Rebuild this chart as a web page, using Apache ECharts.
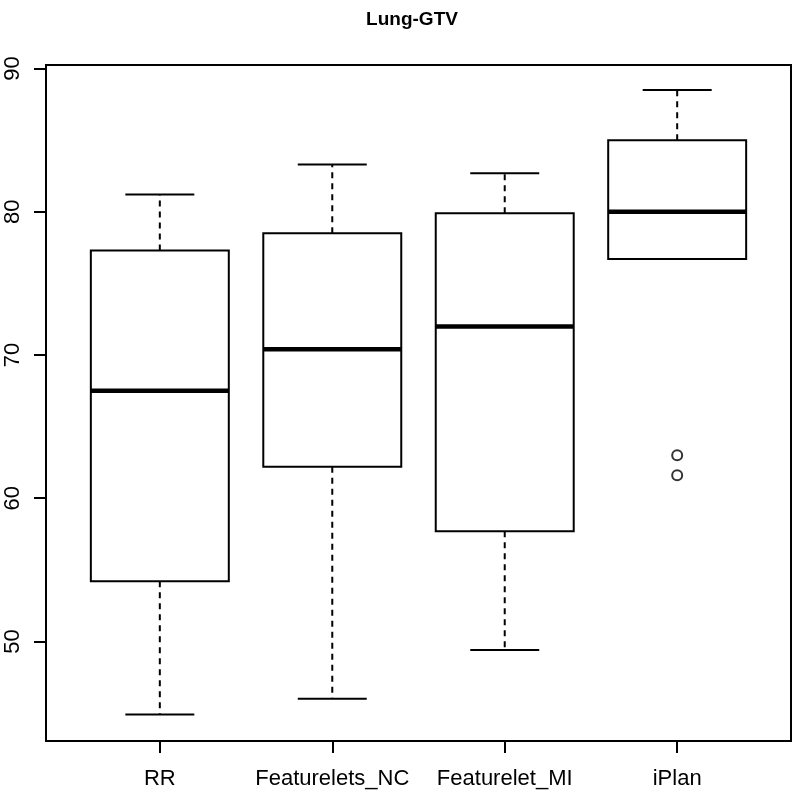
<!DOCTYPE html>
<html>
<head>
<meta charset="utf-8">
<script src="https://cdn.jsdelivr.net/npm/echarts@6/dist/echarts.min.js"></script>
<style>
  html, body { margin: 0; padding: 0; background: #fff; }
  #chart { width: 795px; height: 798px; }
</style>
</head>
<body>
<div id="chart"></div>
<script>
// boxplot stats
var categories = ['RR', 'Featurelets_NC', 'Featurelet_MI', 'iPlan']
var lowerWhisker = [44.9, 46.0, 49.4, 76.7]
var q1 = [54.2, 62.2, 57.7, 76.7]
var median = [67.5, 70.4, 72.0, 80.0]
var q3 = [77.3, 78.5, 79.9, 85.0]
var upperWhisker = [81.2, 83.3, 82.7, 88.5]
var outliers = [[4, 63.0], [4, 61.6]]
var yTicks = [50, 60, 70, 80, 90]

var boxData = categories.map(function (c, i) {
  return [i + 1, lowerWhisker[i], q1[i], median[i], q3[i], upperWhisker[i]]
})

var font = 'Liberation Sans, Arial, sans-serif'

function renderBox(params, api) {
  var x = api.value(0)
  var lo = api.coord([x, api.value(1)])
  var b1 = api.coord([x, api.value(2)])
  var md = api.coord([x, api.value(3)])
  var b3 = api.coord([x, api.value(4)])
  var hi = api.coord([x, api.value(5)])
  var left = api.coord([x - 0.4, 0])[0]
  var right = api.coord([x + 0.4, 0])[0]
  var capL = api.coord([x - 0.2, 0])[0]
  var capR = api.coord([x + 0.2, 0])[0]
  var cx = lo[0]
  var solid = { stroke: '#000', lineWidth: 2 }
  var dashed = { stroke: '#000', lineWidth: 2, lineDash: [6, 5] }
  return {
    type: 'group',
    children: [
      { type: 'line', shape: { x1: cx, y1: b3[1], x2: cx, y2: hi[1] }, style: dashed },
      { type: 'line', shape: { x1: cx, y1: b1[1], x2: cx, y2: lo[1] }, style: dashed },
      { type: 'line', shape: { x1: capL, y1: hi[1], x2: capR, y2: hi[1] }, style: solid },
      { type: 'line', shape: { x1: capL, y1: lo[1], x2: capR, y2: lo[1] }, style: solid },
      { type: 'rect', shape: { x: left, y: b3[1], width: right - left, height: b1[1] - b3[1] },
        style: { fill: '#fff', stroke: '#000', lineWidth: 2 } },
      { type: 'line', shape: { x1: left, y1: md[1], x2: right, y2: md[1] },
        style: { stroke: '#000', lineWidth: 4.5 } }
    ]
  }
}

var chart = echarts.init(document.getElementById('chart'))
chart.setOption({
  animation: false,
  backgroundColor: '#fff',
  title: {
    text: 'Lung-GTV',
    left: 407,
    textAlign: 'center',
    top: 5,
    textStyle: { fontFamily: font, fontWeight: 'bold', fontSize: 19, color: '#000' }
  },
  grid: {
    left: 46, right: 4, top: 65, bottom: 57,
    outerBoundsMode: 'none',
    containLabel: false,
    show: true, borderColor: '#000', borderWidth: 2, backgroundColor: '#fff'
  },
  xAxis: {
    type: 'value',
    min: 0.34,
    max: 4.66,
    splitLine: { show: false },
    axisLine: { show: false },
    axisTick: {
      show: true, length: 12, inside: false,
      customValues: [1, 2, 3, 4],
      lineStyle: { color: '#000', width: 2 }
    },
    axisLabel: {
      customValues: [1, 2, 3, 4],
      formatter: function (v) { return categories[Math.round(v) - 1] },
      margin: 27,
      fontFamily: font, fontSize: 22, color: '#000'
    }
  },
  yAxis: {
    type: 'value',
    min: 43.05,
    max: 90.25,
    splitLine: { show: false },
    axisLine: { show: false },
    axisTick: {
      show: true, length: 12, inside: false,
      customValues: yTicks,
      lineStyle: { color: '#000', width: 2 }
    },
    axisLabel: {
      customValues: yTicks,
      rotate: 90,
      margin: 22,
      fontFamily: font, fontSize: 22, color: '#000'
    }
  },
  series: [
    {
      type: 'custom',
      renderItem: renderBox,
      encode: { x: 0, y: [1, 2, 3, 4, 5] },
      data: boxData,
      z: 2
    },
    {
      type: 'scatter',
      symbol: 'circle',
      symbolSize: 10,
      itemStyle: { color: '#fff', borderColor: '#000', borderWidth: 2 },
      data: outliers,
      z: 3
    }
  ]
})
</script>
</body>
</html>
